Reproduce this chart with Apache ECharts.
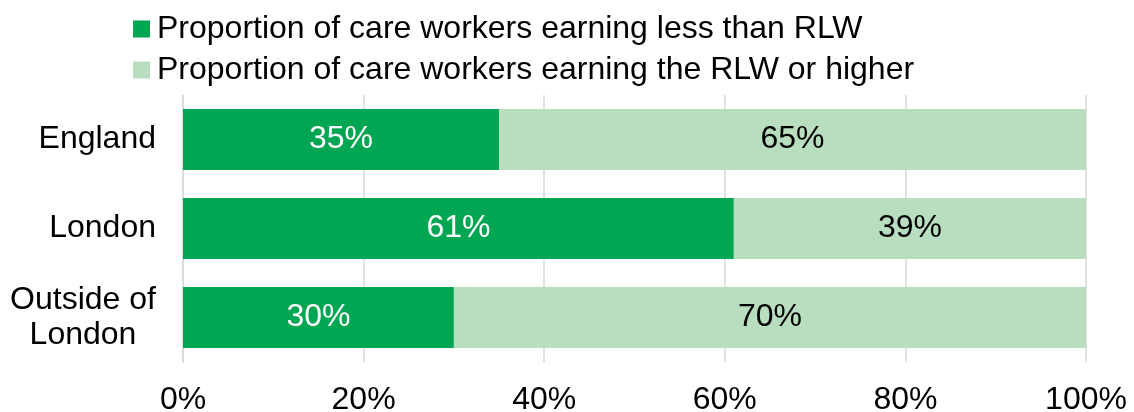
<!DOCTYPE html>
<html>
<head>
<meta charset="utf-8">
<script src="https://cdn.jsdelivr.net/npm/echarts@6/dist/echarts.min.js"></script>
<style>
  html, body { margin: 0; padding: 0; background: #fff; }
  #chart { width: 1134px; height: 412px; }
</style>
</head>
<body>
<div id="chart"></div>
<script>
// Regions shown as rows, top to bottom
const regions = ['England', 'London', 'Outside of London'];
// Share of care workers paid below the Real Living Wage (%)
const belowRLW = [35, 61, 30];
// Share of care workers paid at or above the Real Living Wage (%)
const atOrAboveRLW = [65, 39, 70];
const seriesNames = [
  'Proportion of care workers earning less than RLW',
  'Proportion of care workers earning the RLW or higher'
];
const xTicks = [0, 20, 40, 60, 80, 100];

const FONT = '"Liberation Sans", Arial, sans-serif';
const FS = 32;
const DARK = '#00a651';
const LIGHT = '#b9debf';

const chart = echarts.init(document.getElementById('chart'), null, { renderer: 'canvas' });

chart.setOption({
  animation: false,
  backgroundColor: '#ffffff',
  legend: {
    orient: 'vertical',
    left: 128,
    top: 8,
    itemWidth: 17,
    itemHeight: 17,
    itemGap: 9,
    icon: 'rect',
    textStyle: { fontFamily: FONT, fontSize: FS, color: '#000', lineHeight: 32, padding: [0, 0, 0, 2] },
    data: seriesNames
  },
  grid: {
    left: 183, right: 48, top: 95, bottom: 50,
    containLabel: false,
    outerBoundsMode: 'none'
  },
  xAxis: {
    type: 'value',
    min: 0,
    max: 100,
    interval: 20,
    axisLine: { show: false },
    axisTick: { show: false },
    splitLine: { show: true, lineStyle: { color: '#d9d9d9', width: 1.5 } },
    axisLabel: {
      margin: 22,
      fontFamily: FONT,
      fontSize: FS,
      color: '#000',
      formatter: v => xTicks.includes(v) ? v + '%' : ''
    }
  },
  yAxis: {
    type: 'category',
    inverse: true,
    data: regions,
    axisLine: { show: true, lineStyle: { color: '#d9d9d9', width: 1.5 } },
    axisTick: { show: false },
    axisLabel: {
      margin: 15,
      align: 'right',
      fontFamily: FONT,
      fontSize: FS,
      color: '#000',
      formatter: v => v === 'Outside of London'
        ? '{c|Outside of}\n{c|London}'
        : '{r|' + v + '}',
      rich: {
        c: { fontFamily: FONT, fontSize: FS, color: '#000', width: 170, align: 'center', lineHeight: 35 },
        r: { fontFamily: FONT, fontSize: FS, color: '#000', padding: [0, 12, 0, 0] }
      }
    }
  },
  series: [
    {
      name: seriesNames[0],
      type: 'bar',
      stack: 'total',
      barWidth: 61,
      data: belowRLW,
      itemStyle: { color: DARK },
      label: {
        show: true,
        position: 'inside',
        formatter: p => p.value + '%',
        fontFamily: FONT,
        fontSize: FS,
        color: '#fff'
      }
    },
    {
      name: seriesNames[1],
      type: 'bar',
      stack: 'total',
      barWidth: 61,
      data: atOrAboveRLW,
      itemStyle: { color: LIGHT },
      label: {
        show: true,
        position: 'inside',
        formatter: p => p.value + '%',
        fontFamily: FONT,
        fontSize: FS,
        color: '#000'
      }
    }
  ]
});
</script>
</body>
</html>
